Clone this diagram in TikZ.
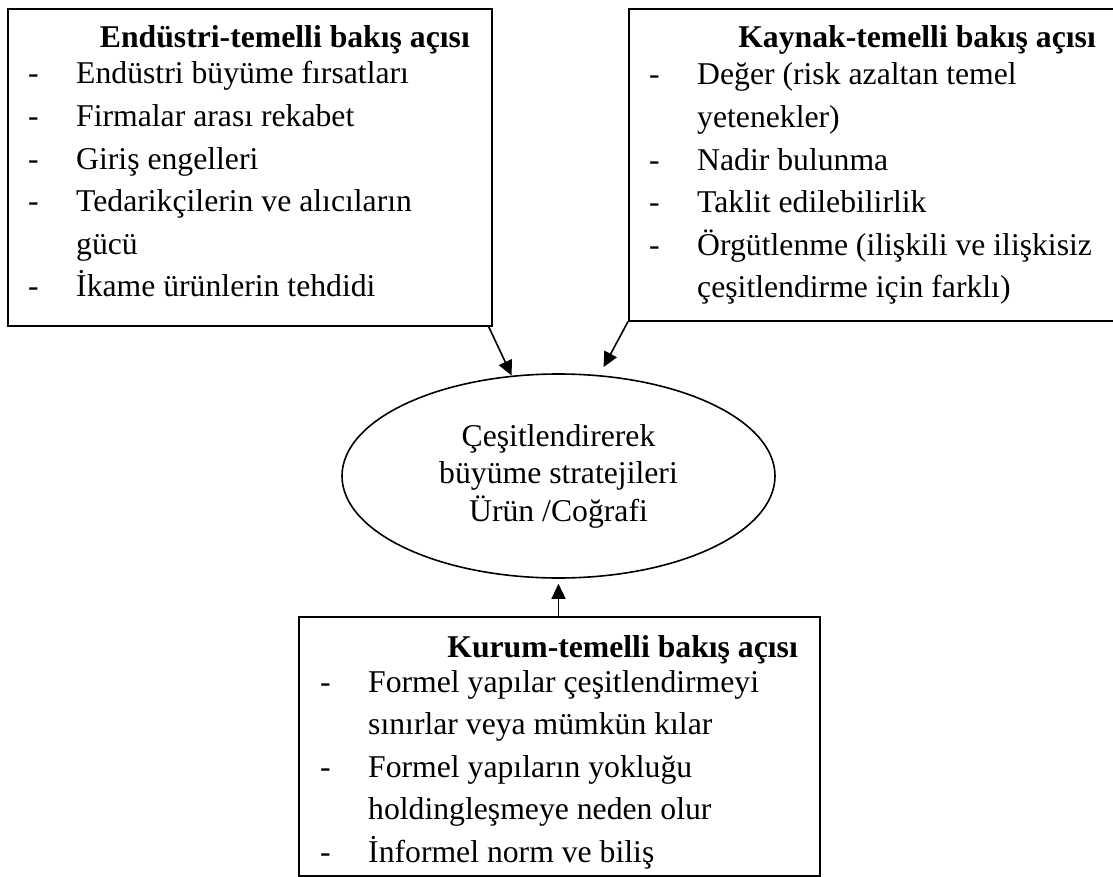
\documentclass[tikz,border=0pt]{standalone}
\usepackage{fontspec}
\setmainfont{Liberation Serif}
\usetikzlibrary{shapes.geometric,arrows.meta}

% body text size and line pitch of the lists
\newcommand{\listfont}{\fontsize{31.7}{42.6}\selectfont}
\newcommand{\headfont}{\fontsize{31.7}{36}\selectfont\bfseries}
% one list: dash column, then the item text
\newenvironment{dashlist}{\listfont\begin{tabular}[t]{@{}p{48pt}@{}l@{}}}{\end{tabular}}

\tikzset{
  panel/.style={draw, line width=1.6pt, rectangle, inner sep=0pt, anchor=north west},
  heading/.style={inner sep=0pt, anchor=base east, font=\headfont},
  items/.style={inner sep=0pt, anchor=base west},
  goal/.style={draw, line width=1.6pt, ellipse, inner sep=0pt, align=center,
    minimum width=433pt, minimum height=204pt, font=\fontsize{31.7}{37.5}\selectfont},
  link/.style={line width=1.6pt, -{Triangle[length=15pt,width=14pt]}}
}

\begin{document}
\begin{tikzpicture}[x=1pt,y=-1pt]
\useasboundingbox (0,0) rectangle (1113,877);

% industry-based view
\node[panel, minimum width=484pt, minimum height=317pt] (ind) at (7,8) {};
\node[heading] (indhead) at (470,48) {Endüstri-temelli bakış açısı};
\node[items] (indlist) at (28,84) {\begin{dashlist}
- & Endüstri büyüme fırsatları\\
- & Firmalar arası rekabet\\
- & Giriş engelleri\\
- & Tedarikçilerin ve alıcıların\\
  & gücü\\
- & İkame ürünlerin tehdidi
\end{dashlist}};

% resource-based view
\node[panel, minimum width=490pt, minimum height=312pt] (res) at (628,8) {};
\node[heading] (reshead) at (1096,48) {Kaynak-temelli bakış açısı};
\node[items] (reslist) at (649,85) {\begin{dashlist}
- & Değer (risk azaltan temel\\
  & yetenekler)\\
- & Nadir bulunma\\
- & Taklit edilebilirlik\\
- & Örgütlenme (ilişkili ve ilişkisiz\\
  & çeşitlendirme için farklı)
\end{dashlist}};

% institution-based view
\node[panel, minimum width=521pt, minimum height=259pt] (inst) at (298,616) {};
\node[heading] (insthead) at (798,657) {Kurum-temelli bakış açısı};
\node[items] (instlist) at (320,692) {\begin{dashlist}
- & Formel yapılar çeşitlendirmeyi\\
  & sınırlar veya mümkün kılar\\
- & Formel yapıların yokluğu\\
  & holdingleşmeye neden olur\\
- & İnformel norm ve biliş
\end{dashlist}};

% diversification strategies
\node[goal] (ell) at (558.5,476) {Çeşitlendirerek\\büyüme stratejileri\\Ürün /Coğrafi};

% influences
\draw[link] ([xshift=-4pt]ind.south east) -- (ell.115);
\draw[link, shorten >=9pt] (res.south west) -- (ell.68);
\draw[link, shorten >=5pt] (inst.north -| ell.south) -- (ell.south);
\end{tikzpicture}
\end{document}
